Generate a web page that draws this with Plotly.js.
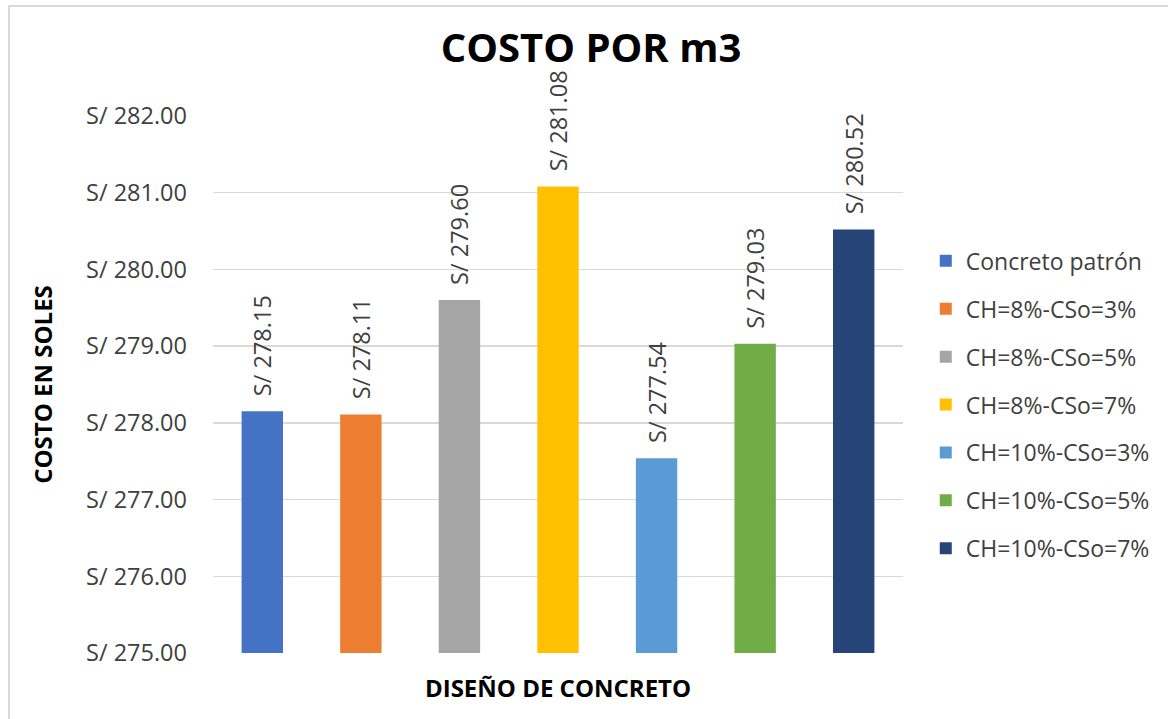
<!DOCTYPE html>
<html>
<head>
<meta charset="utf-8">
<script src="https://cdn.plot.ly/plotly-3.0.1.min.js"></script>
<style>
  html, body { margin: 0; padding: 0; background: #fff; }
  #frame { position: absolute; left: 8px; top: 5px; width: 1170px; height: 730px; border: 2px solid #D9D9D9; box-sizing: border-box; pointer-events: none; }
  #chart { width: 1168px; height: 719px; }
</style>
</head>
<body>
<div id="chart"></div>
<div id="frame"></div>
<script>
const seriesNames = ["Concreto patrón", "CH=8%-CSo=3%", "CH=8%-CSo=5%", "CH=8%-CSo=7%", "CH=10%-CSo=3%", "CH=10%-CSo=5%", "CH=10%-CSo=7%"];
const costs = [278.15, 278.11, 279.60, 281.08, 277.54, 279.03, 280.52];
const colors = ["#4472C4", "#ED7D31", "#A5A5A5", "#FFC000", "#5B9BD5", "#70AD47", "#264478"];
const yTicks = [275, 276, 277, 278, 279, 280, 281, 282];

const FONT = "Open Sans, Noto Sans, sans-serif";

const traces = seriesNames.map((name, i) => ({
  type: "bar",
  name: name,
  x: [i],
  y: [costs[i]],
  width: 0.42,
  marker: { color: colors[i] },
  text: ["\u00A0\u00A0S/ " + costs[i].toFixed(2)],
  textposition: "outside",
  textangle: -90,
  cliponaxis: false,
  constraintext: "none",
  textfont: { family: FONT, size: 23.5, color: "#404040" },
  legendgroup: "g" + i,
  hoverinfo: "skip"
}));

const layout = {
  width: 1168,
  height: 719,
  margin: { l: 213, r: 265, t: 116, b: 66 },
  paper_bgcolor: "#ffffff",
  plot_bgcolor: "#ffffff",
  barmode: "overlay",
  showlegend: true,
  title: {
    text: "<b>COSTO POR m3</b>",
    x: 0.506, xref: "container", xanchor: "center",
    y: 0.933, yref: "container", yanchor: "middle",
    font: { family: FONT, size: 40, color: "#000000" }
  },
  xaxis: {
    range: [-0.5, 6.5],
    showticklabels: false,
    showgrid: false,
    zeroline: false,
    showline: false,
    ticks: "",
    fixedrange: true,
    title: { text: "<b>DISEÑO DE CONCRETO</b>", standoff: 27, font: { family: FONT, size: 24, color: "#000000" } }
  },
  yaxis: {
    range: [275, 282],
    tickvals: yTicks,
    ticktext: yTicks.map(v => "S/ " + v.toFixed(2)),
    showgrid: true,
    gridcolor: "#D9D9D9",
    gridwidth: 1.5,
    zeroline: false,
    showline: false,
    ticks: "",
    ticklabelstandoff: 25,
    tickfont: { family: FONT, size: 23.5, color: "#404040" },
    fixedrange: true,
    title: { text: "<b>COSTO EN SOLES</b>", standoff: 26, font: { family: FONT, size: 24, color: "#000000" } }
  },
  legend: {
    x: 1.033, xanchor: "left",
    y: 0.462, yanchor: "middle",
    traceorder: "grouped",
    tracegroupgap: 15,
    font: { family: FONT, size: 23, color: "#404040" },
    itemwidth: 30,
    bgcolor: "rgba(0,0,0,0)"
  }
};

Plotly.newPlot("chart", traces, layout, { displayModeBar: false, staticPlot: true });
</script>
</body>
</html>
